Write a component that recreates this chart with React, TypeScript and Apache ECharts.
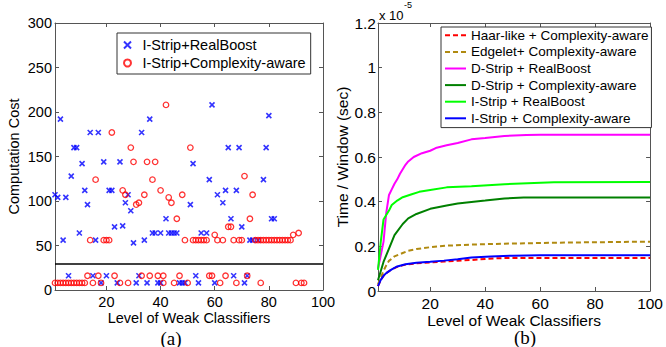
import React, { useEffect, useRef } from "react";
import * as echarts from "echarts";

const X_TICKS = [20, 40, 60, 80, 100];

// (a) computation cost per weak classifier level
const realBoostPts: [number, number][] = [
  [1, 107], [2, 104], [3, 192], [4, 56], [5, 104], [6, 16], [7, 128], [8, 160], [9, 160],
  [10, 64], [11, 142], [12, 112], [13, 96], [14, 177], [15, 16], [16, 56], [17, 177], [18, 8],
  [19, 144], [20, 16], [21, 112], [22, 112], [23, 71], [24, 8], [25, 144], [26, 72], [27, 98],
  [28, 107], [29, 89], [30, 53], [31, 8], [32, 16], [33, 177], [34, 56], [35, 8], [36, 192],
  [37, 64], [38, 64], [39, 8], [40, 64], [40, 8], [42, 80], [43, 64], [44, 64], [45, 64],
  [46, 64], [47, 8], [48, 8], [49, 8], [51, 96], [52, 142], [53, 16], [54, 8], [55, 64],
  [57, 64], [58, 124], [59, 208], [60, 8], [61, 107], [63, 98], [64, 112], [65, 160], [66, 80],
  [67, 16], [68, 112], [69, 160], [70, 71], [71, 8], [72, 16], [73, 56], [74, 56], [76, 56],
  [78, 124], [79, 160], [80, 196], [81, 80], [82, 80],
];

const complexityPts: [number, number][] = [
  [1, 8], [2, 8], [3, 8], [4, 8], [5, 8], [6, 8], [7, 8], [8, 8], [9, 8], [10, 8], [11, 8], [12, 8],
  [15, 8], [18, 8], [25, 8], [28, 8], [41, 8], [45, 8], [50, 8], [62, 8], [68, 8], [77, 8],
  [90, 8], [92, 8], [93, 8],
  [13, 16], [17, 16], [23, 16], [33, 16], [36, 16], [39, 16], [41, 16], [47, 16], [58, 16],
  [59, 16], [64, 16], [72, 16],
  [14, 56], [16, 124], [19, 56], [20, 56], [21, 56], [22, 177], [26, 112], [27, 107], [29, 160],
  [30, 144], [31, 96], [32, 98], [34, 107], [35, 144], [37, 124], [38, 144], [40, 112], [42, 208],
  [43, 104], [44, 98], [46, 80], [48, 107], [49, 56], [51, 160], [52, 56], [53, 56], [54, 56],
  [55, 56], [56, 56], [57, 56], [60, 62], [61, 56], [63, 56], [65, 71], [66, 71], [67, 56],
  [69, 56], [70, 56], [71, 128], [73, 80], [74, 107], [75, 56], [76, 56], [77, 56], [78, 56],
  [79, 56], [80, 56], [81, 56], [82, 56], [83, 56], [84, 56], [85, 56], [86, 56], [87, 56],
  [88, 56], [89, 62], [91, 64],
];
const THRESHOLD = 30;

// (b) time per window (x 1e-5 sec)
const haarCA: [number, number][] = [
  [1, 0.022], [2, 0.05], [3, 0.068], [4, 0.08], [6, 0.097], [8, 0.108], [11, 0.118], [15, 0.124],
  [20, 0.128], [25, 0.132], [30, 0.136], [35, 0.139], [40, 0.143], [45, 0.147], [50, 0.148], [100, 0.148],
];
const edgeletCA: [number, number][] = [
  [1, 0.03], [2, 0.06], [3, 0.09], [4, 0.115], [5, 0.135], [7, 0.155], [10, 0.17], [12, 0.18],
  [15, 0.188], [20, 0.196], [26, 0.203], [35, 0.208], [47, 0.212], [70, 0.217], [100, 0.221],
];
const dStripRB: [number, number][] = [
  [1, 0.1], [2, 0.16], [3, 0.22], [4, 0.35], [5, 0.43], [6, 0.455], [7, 0.48], [8, 0.5], [9, 0.525],
  [10, 0.545], [11, 0.565], [12, 0.58], [14, 0.6], [17, 0.617], [20, 0.628], [22, 0.64], [26, 0.653],
  [30, 0.663], [35, 0.679], [40, 0.685], [47, 0.694], [55, 0.698], [60, 0.7], [100, 0.7],
];
const dStripCA: [number, number][] = [
  [1, 0.048], [3, 0.13], [5, 0.19], [7, 0.25], [10, 0.3], [12, 0.325], [15, 0.345], [20, 0.368],
  [26, 0.383], [30, 0.392], [35, 0.399], [40, 0.405], [47, 0.414], [54, 0.419], [100, 0.419],
];
const iStripRB: [number, number][] = [
  [1, 0.095], [2, 0.22], [3, 0.32], [4, 0.34], [5, 0.36], [6, 0.385], [8, 0.405], [10, 0.42],
  [13, 0.432], [16, 0.444], [20, 0.452], [26, 0.464], [35, 0.469], [47, 0.478], [65, 0.487], [100, 0.488],
];
const iStripCA: [number, number][] = [
  [1, 0.022], [2, 0.05], [3, 0.068], [4, 0.08], [6, 0.097], [8, 0.11], [11, 0.12], [15, 0.127],
  [20, 0.131], [25, 0.136], [30, 0.142], [35, 0.15], [42, 0.155], [50, 0.158], [60, 0.16], [100, 0.16],
];

const FONT = '"Liberation Sans", Arial, Helvetica, sans-serif';
const AXIS_COLOR = "#555";

function xAxes(grid: number, fs: number, nameGap: number) {
  const common = {
    gridIndex: grid,
    type: "value" as const,
    min: 1,
    max: 100,
    splitLine: { show: false },
    axisLine: { show: true, onZero: false, lineStyle: { color: AXIS_COLOR, width: 1 } },
    axisTick: { show: true, inside: true, length: 4, customValues: X_TICKS, lineStyle: { color: AXIS_COLOR } },
  };
  return [
    {
      ...common,
      position: "bottom",
      axisLabel: { customValues: X_TICKS, fontSize: fs, color: "#000", fontFamily: FONT, margin: 4 },
      name: "Level of Weak Classifiers",
      nameLocation: "middle",
      nameGap,
      nameMoveOverlap: false,
      nameTextStyle: { fontSize: fs, color: "#000", fontFamily: FONT },
    },
    { ...common, position: "top", axisLabel: { show: false } },
  ];
}

function yAxisPair(grid: number, max: number, interval: number) {
  const common = {
    gridIndex: grid,
    type: "value" as const,
    min: 0,
    max,
    interval,
    splitLine: { show: false },
    axisLine: { show: true, onZero: false, lineStyle: { color: AXIS_COLOR } },
    axisTick: { show: true, inside: true, length: 4, lineStyle: { color: AXIS_COLOR } },
  };
  return [
    { ...common, position: "left" },
    { ...common, position: "right", axisLabel: { show: false } },
  ];
}

export default function App() {
  const ref = useRef<HTMLDivElement>(null);
  useEffect(() => {
    if (!ref.current) return;
    const chart = echarts.init(ref.current, undefined, { renderer: "svg" });
    const lineSeries = (name: string, data: [number, number][], color: string, dashed: boolean) => ({
      name,
      type: "line",
      xAxisIndex: 2,
      yAxisIndex: 2,
      data,
      symbol: "none",
      showSymbol: false,
      smooth: false,
      lineStyle: { color, width: 2, type: dashed ? [5, 3] : "solid" },
      itemStyle: { color },
    });
    const [yl0, yr0] = yAxisPair(0, 300, 50);
    const [yl1, yr1] = yAxisPair(1, 1.2, 0.2);
    chart.setOption({
      animation: false,
      backgroundColor: "#fff",
      textStyle: { fontFamily: FONT },
      grid: [
        { left: 55, top: 23, width: 268, height: 267 },
        { left: 378, top: 23, width: 277, height: 268 },
      ],
      xAxis: [...xAxes(0, 14.5, 20), ...xAxes(1, 15.5, 21)],
      yAxis: [
        {
          ...yl0,
          axisLabel: { fontSize: 14.5, color: "#000", fontFamily: FONT, margin: 3 },
          name: "Computation Cost",
          nameLocation: "middle",
          nameGap: 34,
          nameMoveOverlap: false,
          nameTextStyle: { fontSize: 14.5, color: "#000", fontFamily: FONT },
        },
        yr0,
        {
          ...yl1,
          axisLabel: {
            fontSize: 15.5,
            color: "#000",
            fontFamily: FONT,
            margin: 2,
            formatter: (v: number) => String(+v.toFixed(1)),
          },
          name: "Time / Window (sec)",
          nameLocation: "middle",
          nameGap: 28,
          nameMoveOverlap: false,
          nameTextStyle: { fontSize: 15.5, color: "#000", fontFamily: FONT },
        },
        yr1,
      ],
      legend: [
        {
          data: ["I-Strip+RealBoost", "I-Strip+Complexity-aware"],
          orient: "vertical",
          left: 117,
          top: 33,
          padding: [3, 5, 2, 6],
          itemGap: 0,
          itemWidth: 20,
          itemHeight: 7,
          borderColor: "#333",
          borderWidth: 1,
          backgroundColor: "#fff",
          textStyle: { fontSize: 14.5, lineHeight: 18, color: "#000", fontFamily: FONT },
        },
        {
          data: [
            "Haar-like + Complexity-aware",
            "Edgelet+ Complexity-aware",
            "D-Strip + RealBoost",
            "D-Strip + Complexity-aware",
            "I-Strip + RealBoost",
            "I-Strip + Complexity-aware",
          ],
          orient: "vertical",
          left: 441,
          top: 27,
          padding: [0, 3, 1, 3],
          itemGap: 0,
          itemWidth: 21,
          itemHeight: 10,
          borderColor: "#333",
          borderWidth: 1,
          backgroundColor: "#fff",
          itemStyle: { color: "rgba(0,0,0,0)", borderColor: "rgba(0,0,0,0)", borderWidth: 0 },
          textStyle: { fontSize: 13.5, lineHeight: 16.6, color: "#000", fontFamily: FONT },
        },
      ],
      graphic: [
        {
          type: "text",
          x: 379,
          y: 15,
          style: {
            text: "x 10",
            font: `13px ${FONT}`,
            fill: "#000",
            align: "left",
            verticalAlign: "middle",
            textAlign: "left",
            textVerticalAlign: "middle",
          },
        },
        {
          type: "text",
          x: 404,
          y: 5,
          style: {
            text: "-5",
            font: `9px ${FONT}`,
            fill: "#000",
            align: "left",
            verticalAlign: "middle",
            textAlign: "left",
            textVerticalAlign: "middle",
          },
        },
        {
          type: "text",
          x: 171,
          y: 338,
          style: {
            text: "(a)",
            font: `19px "Liberation Serif", "Times New Roman", serif`,
            fill: "#000",
            align: "center",
            verticalAlign: "middle",
            textAlign: "center",
            textVerticalAlign: "middle",
          },
        },
        {
          type: "text",
          x: 525,
          y: 337,
          style: {
            text: "(b)",
            font: `19px "Liberation Serif", "Times New Roman", serif`,
            fill: "#000",
            align: "center",
            verticalAlign: "middle",
            textAlign: "center",
            textVerticalAlign: "middle",
          },
        },
      ],
      series: [
        {
          name: "I-Strip+RealBoost",
          type: "scatter",
          xAxisIndex: 0,
          yAxisIndex: 0,
          data: realBoostPts,
          symbol: "path://M0,0L10,10M0,10L10,0",
          symbolSize: 5,
          itemStyle: { color: "rgba(0,0,0,0)", borderColor: "#0000ff", borderWidth: 1.6 },
          markLine: {
            silent: true,
            symbol: ["none", "none"],
            label: { show: false },
            lineStyle: { color: "#000", width: 1.6, type: "solid" },
            data: [{ yAxis: THRESHOLD }],
          },
        },
        {
          name: "I-Strip+Complexity-aware",
          type: "scatter",
          xAxisIndex: 0,
          yAxisIndex: 0,
          data: complexityPts,
          symbol: "circle",
          symbolSize: 5.5,
          itemStyle: { color: "rgba(0,0,0,0)", borderColor: "#ff0000", borderWidth: 1.3 },
        },
        lineSeries("Haar-like + Complexity-aware", haarCA, "#ff0000", true),
        lineSeries("Edgelet+ Complexity-aware", edgeletCA, "#b08a10", true),
        lineSeries("D-Strip + RealBoost", dStripRB, "#ff00ff", false),
        lineSeries("D-Strip + Complexity-aware", dStripCA, "#008000", false),
        lineSeries("I-Strip + RealBoost", iStripRB, "#00ff00", false),
        lineSeries("I-Strip + Complexity-aware", iStripCA, "#0000ff", false),
      ],
    });
    return () => chart.dispose();
  }, []);
  return (
    <div
      ref={ref}
      style={{ position: "fixed", left: 0, top: 0, width: 666, height: 347, background: "#fff" }}
    />
  );
}
